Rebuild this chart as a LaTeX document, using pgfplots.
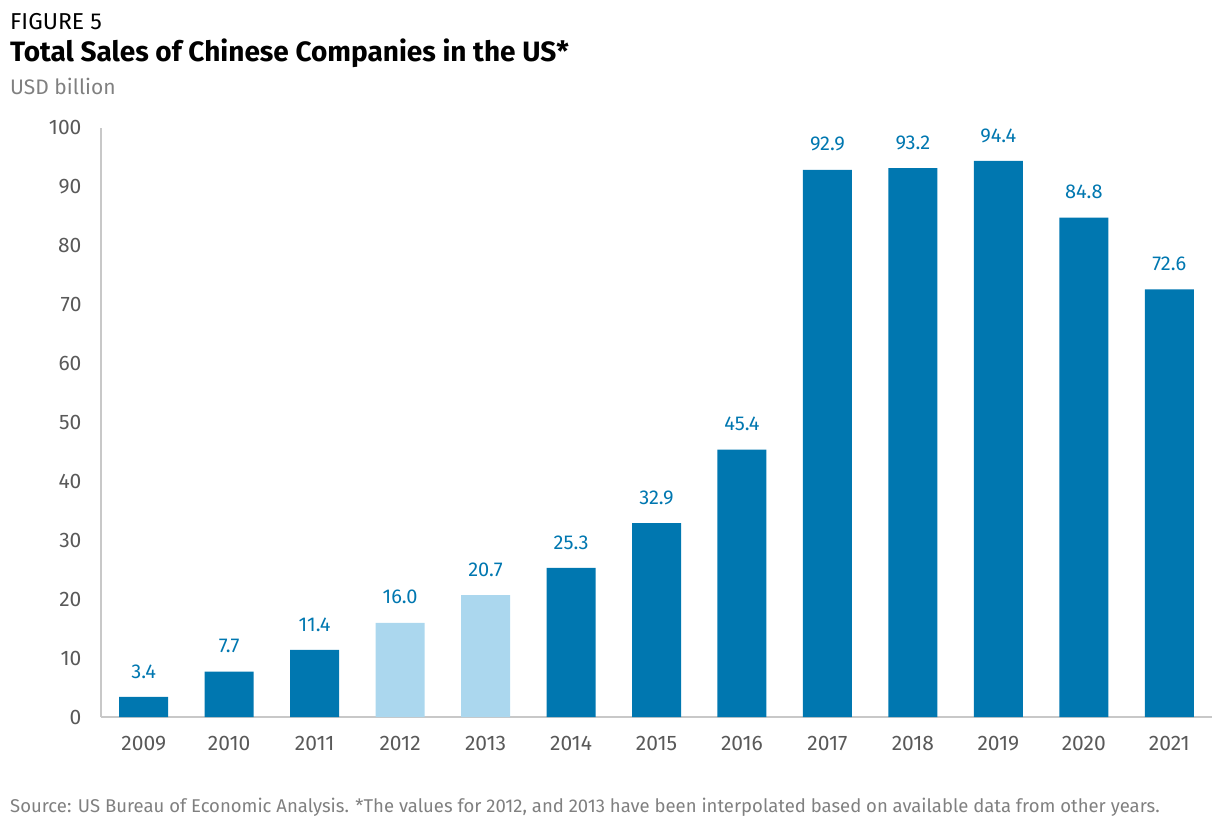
\documentclass[border=0pt]{standalone}
\usepackage{pgfplots}
\pgfplotsset{compat=1.18}
\usepackage{fontspec}
\setmainfont{Fira Sans}
\definecolor{barblue}{HTML}{0077B0}
\definecolor{barlight}{HTML}{ABD7EE}
\definecolor{ticky}{HTML}{595959}
\definecolor{subgrey}{HTML}{808080}
\definecolor{axgrey}{HTML}{C8C8C8}
\begin{document}
\begin{tikzpicture}
\useasboundingbox (0pt,0pt) rectangle (1225pt,825pt);
\node[anchor=base west,inner sep=0,font=\fontsize{23}{26}\selectfont] at (10pt,795pt) {FIGURE 5};
\node[anchor=base west,inner sep=0,font=\fontsize{28}{32}\selectfont\bfseries] at (10pt,763pt) {Total Sales of Chinese Companies in the US*};
\node[anchor=base west,inner sep=0,text=subgrey,font=\fontsize{21}{24}\selectfont] at (10pt,730pt) {USD billion};
\node[anchor=base west,inner sep=0,text=subgrey,font=\fontsize{18.5}{20}\selectfont] at (10pt,13pt) {Source: US Bureau of Economic Analysis. *The values for 2012, and 2013 have been interpolated based on available data from other years.};
\begin{axis}[
  at={(101pt,108pt)}, anchor=south west,
  scale only axis, width=1111pt, height=589pt,
  xmin=-0.5, xmax=12.5, ymin=0, ymax=100,
  axis lines*=left,
  axis line style={axgrey, line width=1.5pt, -},
  xtick={0,...,12},
  xticklabels={2009,2010,2011,2012,2013,2014,2015,2016,2017,2018,2019,2020,2021},
  ytick={0,10,...,100},
  major tick length=0pt,
  tick label style={text=ticky, font=\fontsize{21}{24}\selectfont},
  /pgf/number format/assume math mode=true,
  xticklabel style={yshift=-16pt},
  yticklabel style={xshift=-16pt},
  ybar, bar width=49pt, bar shift=0pt,
  nodes near coords,
  nodes near coords style={font=\fontsize{20}{24}\selectfont, text=barblue, yshift=15pt,
     /pgf/number format/fixed, /pgf/number format/fixed zerofill, /pgf/number format/precision=1},
  clip=false,
]
\addplot[fill=barblue, draw=none] coordinates {(0,3.4) (1,7.7) (2,11.4) (5,25.3) (6,32.9) (7,45.4) (8,92.9) (9,93.2) (10,94.4) (11,84.8) (12,72.6)};
\addplot[fill=barlight, draw=none] coordinates {(3,16.0) (4,20.7)};
\end{axis}
\end{tikzpicture}
\end{document}
